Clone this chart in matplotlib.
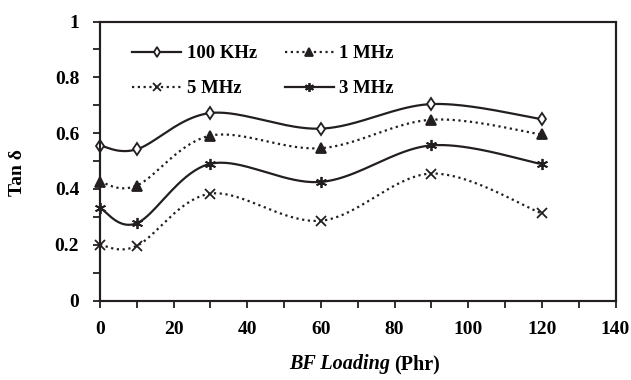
import numpy as np
import matplotlib
matplotlib.use("Agg")
import matplotlib.pyplot as plt
from matplotlib.lines import Line2D
from matplotlib.patches import Rectangle
from matplotlib.ticker import MultipleLocator

plt.rcParams['font.family'] = ['Liberation Serif', 'DejaVu Serif']
plt.rcParams['font.weight'] = 'bold'

loading = [0, 10, 30, 60, 90, 120]
khz100 = [0.555, 0.542, 0.672, 0.616, 0.704, 0.650]
mhz1 = [0.425, 0.412, 0.591, 0.546, 0.648, 0.595]
mhz3 = [0.332, 0.277, 0.490, 0.425, 0.556, 0.489]
mhz5 = [0.199, 0.196, 0.383, 0.286, 0.455, 0.312]

series_names = ['100 KHz', '1 MHz', '5 MHz', '3 MHz']


def smooth(x, y, n=40):
    """Excel-like smoothed line: cubic Bezier between points."""
    x = np.asarray(x, float)
    y = np.asarray(y, float)
    P = np.column_stack([x, y])
    out = []
    m = len(P)
    for i in range(m - 1):
        p0 = P[i - 1] if i > 0 else P[i]
        p1 = P[i]
        p2 = P[i + 1]
        p3 = P[i + 2] if i + 2 < m else P[i + 1]
        c1 = p1 + (p2 - p0) / 6.0
        c2 = p2 - (p3 - p1) / 6.0
        t = np.linspace(0, 1, n)[:, None]
        seg = ((1 - t) ** 3) * p1 + 3 * ((1 - t) ** 2) * t * c1 + 3 * (1 - t) * t ** 2 * c2 + t ** 3 * p2
        if i > 0:
            seg = seg[1:]
        out.append(seg)
    out = np.vstack(out)
    return out[:, 0], out[:, 1]


fig = plt.figure(figsize=(6.31, 3.80), dpi=100)
ax = fig.add_axes([100 / 631, 1 - 300.5 / 380, 515.5 / 631, 279 / 380])

col = '#231f20'
dotted = (0, (1, 1.6))
styles = {
    '100 KHz': dict(ls='-', marker='d', mfc='white', ms=6, data=khz100),
    '1 MHz': dict(ls=dotted, marker='^', mfc=col, ms=7, data=mhz1),
    '5 MHz': dict(ls=dotted, marker='x', mfc=col, ms=7, data=mhz5),
    '3 MHz': dict(ls='-', marker=(6, 2, 0), mfc=col, ms=8, data=mhz3),
}

handles = {}
for name in series_names:
    s = styles[name]
    xs, ys = smooth(loading, s['data'])
    ax.plot(xs, ys, color=col, ls=s['ls'], lw=1.6, zorder=2)
    ax.plot(loading, s['data'], ls='none', marker=s['marker'], color=col,
            mfc=s['mfc'], mec=col, mew=1.3, ms=s['ms'], zorder=3, clip_on=False)
    handles[name] = Line2D([], [], color=col, ls=s['ls'], lw=1.6, marker=s['marker'],
                           mfc=s['mfc'], mec=col, mew=1.3, ms=s['ms'] * 0.8)

order = ['100 KHz', '5 MHz', '1 MHz', '3 MHz']
leg = ax.legend([handles[n] for n in order], order, ncol=2, frameon=False,
                loc='upper left', bbox_to_anchor=(0.03, 0.975),
                prop={'family': 'Liberation Serif', 'weight': 'bold', 'size': 13.5},
                handlelength=2.6, handletextpad=0.3, columnspacing=1.5,
                labelspacing=0.95)

ax.set_xlim(0, 140)
ax.set_ylim(0, 1)
ax.xaxis.set_major_locator(MultipleLocator(20))
ax.xaxis.set_minor_locator(MultipleLocator(10))
ax.yaxis.set_minor_locator(MultipleLocator(0.1))
ax.set_yticks([0, 0.2, 0.4, 0.6, 0.8, 1.0])
ax.set_yticklabels(['0', '0.2', '0.4', '0.6', '0.8', '1'])

for sp in ax.spines.values():
    sp.set_visible(True)
    sp.set_color(col)
    sp.set_linewidth(1.5)

# explicit frame box to be sure it is drawn
ax.add_patch(Rectangle((0, 0), 1, 1, transform=ax.transAxes, fill=False,
                       edgecolor=col, linewidth=1.5, clip_on=False, zorder=5))

ax.tick_params(which='both', direction='out', color=col, width=1.3,
               top=False, right=False, labelsize=14)
ax.tick_params(which='major', length=5)
ax.tick_params(which='minor', length=5)
ax.tick_params(axis='x', which='major', pad=10)
ax.tick_params(axis='y', which='major', pad=10)
for lab in ax.get_xticklabels() + ax.get_yticklabels():
    lab.set_fontweight('bold')

fig.text(17 / 631, 1 - 173 / 380, 'Tan δ', rotation=90, ha='center', va='center',
         fontsize=14, fontweight='bold')
fig.text(390 / 631, 1 - 364 / 380, 'BF Loading', ha='right', va='center',
         fontsize=14.5, fontweight='bold', style='italic')
fig.text(394 / 631, 1 - 364 / 380, '(Phr)', ha='left', va='center',
         fontsize=14.5, fontweight='bold')

fig.savefig('out.png', dpi=100)
